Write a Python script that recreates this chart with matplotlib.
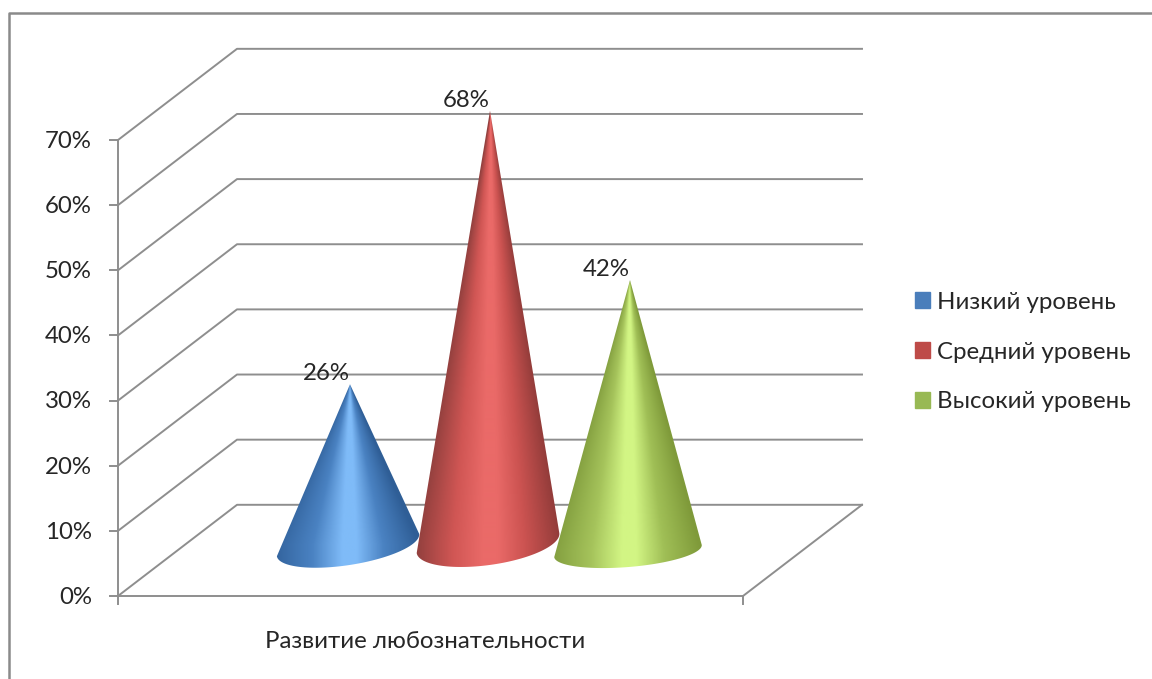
""" 3D cone chart: development of curiosity by level """

import matplotlib
matplotlib.use("Agg")
import matplotlib.pyplot as plt
import numpy as np
from matplotlib.colors import LinearSegmentedColormap
from matplotlib.patches import Patch, Polygon

plt.rcParams['font.family'] = ['Lato', 'Open Sans', 'DejaVu Sans']

# data
category = 'Развитие любознательности'
levels = ['Низкий уровень', 'Средний уровень', 'Высокий уровень']
values = [26, 68, 42]
y_ticks = [0, 10, 20, 30, 40, 50, 60, 70]
y_labels = ['0%', '10%', '20%', '30%', '40%', '50%', '60%', '70%']

# styles
legend_colors = ['#4a7ebb', '#be4b48', '#98b954']
stop_pos = [0, 0.25, 0.46, 0.56, 0.75, 1]
cone_stops = [
    ['#34659f', '#4a82c2', '#7fbbf8', '#7fbbf8', '#4a82c2', '#2f5e96'],
    ['#93403e', '#d05654', '#ea6a68', '#ea6a68', '#cc5351', '#933c3a'],
    ['#84a040', '#a5c35b', '#d2f584', '#d2f584', '#a0bf56', '#7f9a3a'],
]
# base ellipse of each cone, in pixels and degrees
cone_x = [348, 488, 628]
cone_cy = [545, 543, 551]
cone_a = [72, 72, 74]
cone_b = [20, 22, 16]
cone_tilt = [9, 8, 4.7]
grid_col = '#8e8e8e'
text_col = '#262626'
font_size = 17.3

# pixels per percent, percent axis runs over the whole figure
scale = 6.514
floor_px = 596
depth_x = 119
depth_pct = 14.0
cone_floor = 6.5
left_x = 118
right_x = 743


def pct(py):
    return (floor_px - py) / scale


fig = plt.figure(figsize=(11.52, 6.79), dpi=100)
ax = fig.add_axes([0, 0, 1, 1])
ax.axis('off')

# outer frame, runs off the picture on the right and bottom
ax.plot([9, 9, 1152], [pct(679), pct(13), pct(13)], color='#8a8a8a', lw=1.8, zorder=1)

# walls
for t in y_ticks:
    ax.plot([left_x, left_x + depth_x, right_x + depth_x],
            [t, t + depth_pct, t + depth_pct], color=grid_col, lw=1.4, zorder=1)
    ax.plot([left_x - 8, left_x], [t, t], color=grid_col, lw=1.4, zorder=1)
    ax.text(left_x - 26, t - 0.2, y_labels[y_ticks.index(t)], ha='right', va='center',
            fontsize=font_size, color=text_col)
ax.plot([left_x, left_x], [pct(604), y_ticks[-1]], color=grid_col, lw=1.4, zorder=1)
ax.plot([left_x, right_x, right_x + depth_x], [0, 0, depth_pct], color=grid_col, lw=1.4, zorder=1)
ax.plot([right_x, right_x], [pct(604), 0], color=grid_col, lw=1.4, zorder=1)

ax.text((left_x + right_x) / 2 - 5, pct(641), category, ha='center', va='center',
        fontsize=font_size, color=text_col)

# cones, a shaded image clipped to apex + lower half of the tilted base
for i in range(len(values)):
    cmap = LinearSegmentedColormap.from_list('cone%d' % i, list(zip(stop_pos, cone_stops[i])))
    tilt = np.radians(cone_tilt[i])
    a = np.linspace(np.pi, 2 * np.pi, 121)
    ex = cone_a[i] * np.cos(a)
    ey = -cone_b[i] * np.sin(a)      # px, downwards
    bx = cone_x[i] + ex * np.cos(tilt) + ey * np.sin(tilt)
    by = cone_cy[i] - ex * np.sin(tilt) + ey * np.cos(tilt)

    apex_val = values[i] + cone_floor
    apex_x = cone_x[i] + 2
    apex_py = floor_px - apex_val * scale

    # shade by position across the cone, so the bands run up to the apex
    gx, gy = np.meshgrid(np.arange(bx.min() - 2, bx.max() + 3),
                         np.arange(apex_py - 2, by.max() + 3))
    frac = np.clip((gy - apex_py) / (cone_cy[i] - apex_py), 0.002, 1)
    u = (gx - (apex_x + (cone_x[i] - apex_x) * frac)) / (cone_a[i] * frac)
    im = ax.imshow(cmap(np.clip(0.5 + 0.5 * u, 0, 1)), aspect='auto', interpolation='bilinear',
                   extent=(gx.min(), gx.max(), pct(gy.max()), pct(gy.min())), zorder=3 + i)
    outline = [(apex_x, apex_val)] + [(x, pct(y)) for x, y in zip(bx, by)]
    im.set_clip_path(Polygon(outline, closed=True, transform=ax.transData))

    ax.annotate('%d%%' % values[i], xy=(apex_x, apex_val), xytext=(-17, 0),
                textcoords='offset points', ha='center', va='bottom',
                fontsize=font_size, color=text_col, zorder=10)

ax.set_xlim(0, 1152)
ax.set_ylim(pct(679), pct(0))

# legend
handles = [Patch(color=c) for c in legend_colors]
ax.legend(handles, levels, loc='center left', bbox_to_anchor=(893 / 1152, 1 - 352 / 679),
          frameon=False, fontsize=font_size, handlelength=0.62, handleheight=0.62,
          handletextpad=0.32, labelspacing=1.2, labelcolor=text_col)

fig.savefig('out.png', dpi=100)
